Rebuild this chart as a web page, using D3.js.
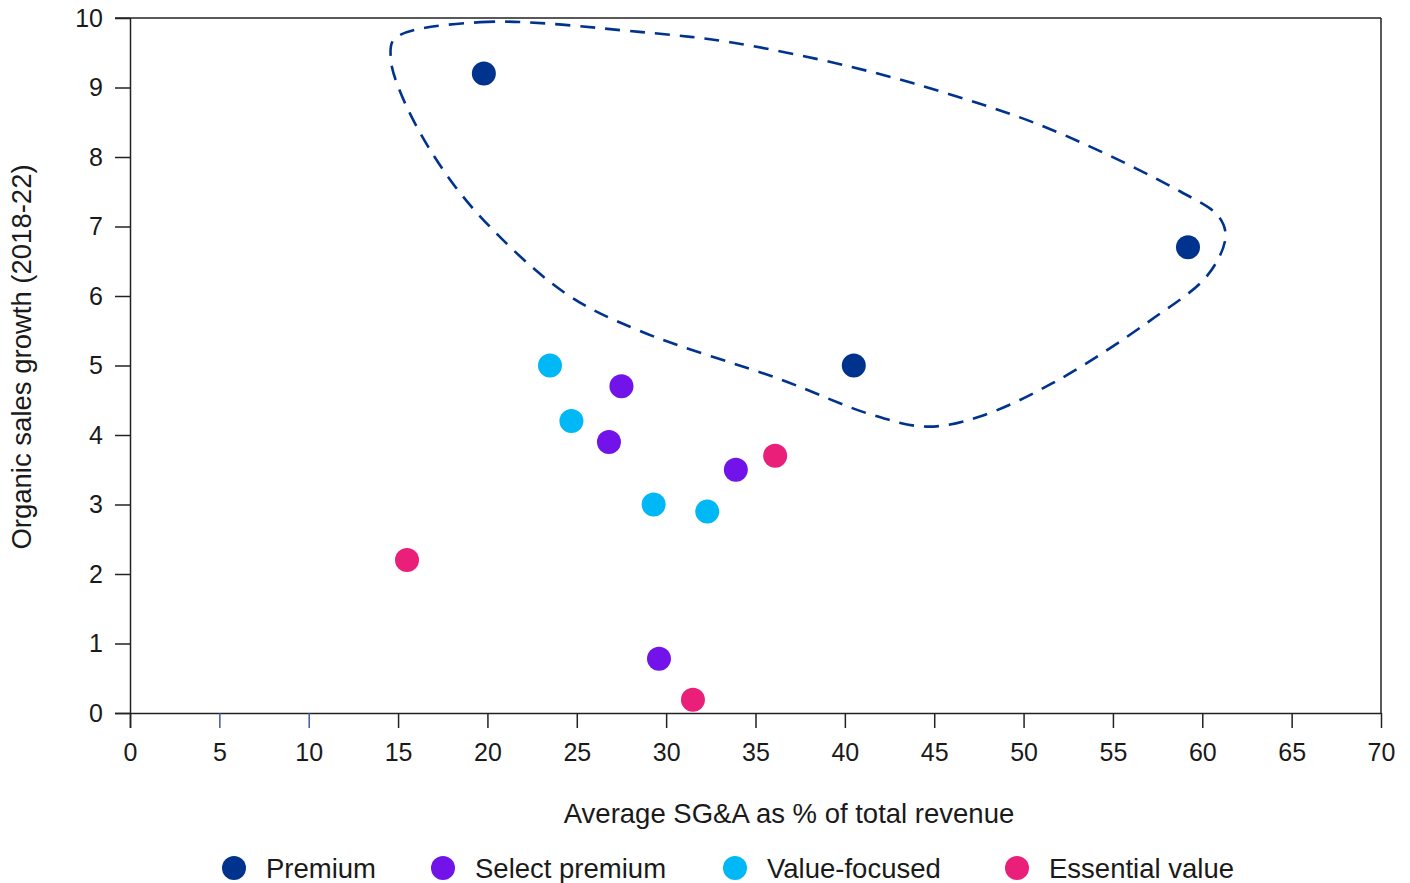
<!DOCTYPE html>
<html><head><meta charset="utf-8">
<script src="https://cdn.jsdelivr.net/npm/d3@7"></script>
<style>body{margin:0;background:#fff}svg{display:block}text{font-family:"Liberation Sans",Arial,sans-serif;fill:#1a1a1a}</style>
</head><body><svg id="c" width="1410" height="883"></svg>
<script>
const categories = ["Premium", "Select premium", "Value-focused", "Essential value"];
const colors = ["#00338d", "#7213ea", "#00b8f5", "#ea1f79"];
const premiumX = [19.8, 40.5, 59.2];
const premiumY = [9.2, 5.0, 6.7];
const selectX = [27.5, 26.8, 33.9, 29.6];
const selectY = [4.7, 3.9, 3.5, 0.78];
const valueX = [23.5, 24.7, 29.3, 32.3];
const valueY = [5.0, 4.2, 3.0, 2.9];
const essentialX = [15.5, 36.1, 31.5];
const essentialY = [2.2, 3.7, 0.19];
const xTicks = [0,5,10,15,20,25,30,35,40,45,50,55,60,65,70];
const yTicks = [0,1,2,3,4,5,6,7,8,9,10];
// outline of premium cluster (data coords)
const outlineX = [14.8,19.6,28.5,33.6,40.3,45.9,51.5,58.8,60.9,61.3,60.3,57.1,52.0,47.6,44.6,41.4,36.4,28.5,24.3,19.4,16.8,15.1,14.6];
const outlineY = [9.7,9.94,9.8,9.65,9.3,8.9,8.4,7.5,7.15,6.85,6.3,5.65,4.8,4.27,4.12,4.3,4.8,5.5,6.05,7.2,8.1,8.95,9.4];

const series = [[premiumX,premiumY],[selectX,selectY],[valueX,valueY],[essentialX,essentialY]];
const svg = d3.select("#c");
const m = {l:130, r:1381, t:18, b:713};
const x = d3.scaleLinear().domain([0,70]).range([m.l,m.r]);
const y = d3.scaleLinear().domain([0,10]).range([m.b,m.t]);

// frame
const g = svg.append("g");
g.append("line").attr("x1",m.l-15).attr("x2",m.r).attr("y1",m.t).attr("y2",m.t).attr("stroke","#222").attr("stroke-width",1.5);
g.append("line").attr("x1",m.r).attr("x2",m.r).attr("y1",m.t).attr("y2",m.b).attr("stroke","#222").attr("stroke-width",1.5);

const xa = svg.append("g").attr("transform",`translate(0,${m.b})`)
  .call(d3.axisBottom(x).tickValues(xTicks).tickSize(15).tickPadding(10).tickFormat(d3.format("d")));
xa.select(".domain").attr("d",`M${m.l-15},0.5H${m.r}`).attr("stroke","#222").attr("stroke-width",1.5);
xa.selectAll(".tick line").attr("stroke",d=> (d===5||d===10)?"#3b5ba5":"#222").attr("stroke-width",1.5);
xa.selectAll(".tick text").style("font-size","25px").attr("fill","#1a1a1a").attr("dy","0.9em");

const ya = svg.append("g").attr("transform",`translate(${m.l},0)`)
  .call(d3.axisLeft(y).tickValues(yTicks).tickSize(15).tickPadding(12));
ya.select(".domain").attr("d",`M0.5,${m.t}V${m.b+15}`).attr("stroke","#222").attr("stroke-width",1.5);
ya.selectAll(".tick line").attr("stroke","#222").attr("stroke-width",1.5);
ya.selectAll(".tick text").style("font-size","25px").attr("fill","#1a1a1a");

// outline
const pts = outlineX.map((v,i)=>[x(v), y(outlineY[i])]);
svg.append("path").attr("d", d3.line().curve(d3.curveCatmullRomClosed.alpha(0.5))(pts))
  .attr("fill","none").attr("stroke","#00338d").attr("stroke-width",2.6).attr("stroke-dasharray","15,10");

// points
series.forEach((s,i)=>{
  svg.append("g").selectAll("circle").data(s[0].map((v,j)=>[v,s[1][j]])).join("circle")
    .attr("cx",d=>x(d[0])).attr("cy",d=>y(d[1])).attr("r",12).attr("fill",colors[i]);
});

// axis titles
svg.append("text").attr("x",789).attr("y",823).attr("text-anchor","middle").style("font-size","27.5px").text("Average SG&A as % of total revenue");
svg.append("text").attr("transform","translate(31,357) rotate(-90)").attr("text-anchor","middle").style("font-size","27.5px").text("Organic sales growth (2018-22)");

// legend
const lx = [234, 443, 735, 1017];
const leg = svg.append("g");
categories.forEach((c,i)=>{
  leg.append("circle").attr("cx",lx[i]).attr("cy",868).attr("r",12).attr("fill",colors[i]);
  leg.append("text").attr("x",lx[i]+32).attr("y",868).attr("dy","0.35em").style("font-size","27.5px").text(c);
});
</script></body></html>
